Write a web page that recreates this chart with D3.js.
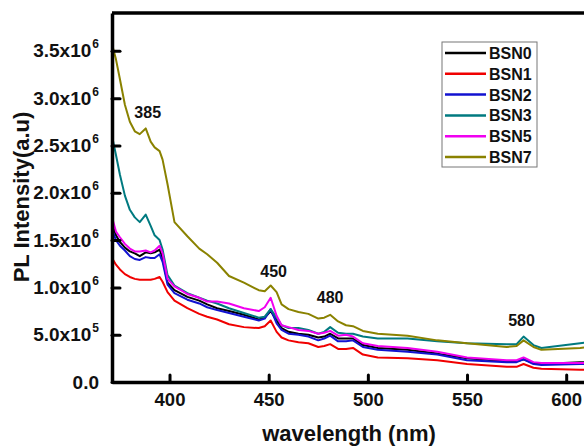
<!DOCTYPE html>
<html>
<head>
<meta charset="utf-8">
<script src="https://cdn.jsdelivr.net/npm/d3@7"></script>
<style>
  body { margin: 0; background: #fff; }
  svg { display: block; font-family: "Liberation Sans", Arial, sans-serif; }
</style>
</head>
<body>
<div id="chart"></div>
<script>
// wavelength (nm) sampled along the spectra
var wavelength = [371, 373, 375, 377.5, 380, 382.5, 385, 388, 390.5, 392.5, 395, 396.5, 399, 402.5, 409, 415, 419, 424, 430, 437.5,
  445, 448, 451, 454, 456.5, 460, 465, 470, 475, 478, 481, 485, 489, 492.5, 497.5, 505, 520, 535, 550, 570,
  575, 578.5, 583.5, 587.5, 607, 612];

// PL intensity in units of 10^6
var bsn0 = [1.67, 1.55, 1.48, 1.42, 1.38, 1.36, 1.33, 1.37, 1.36, 1.37, 1.40, 1.31, 1.05, 0.97, 0.90, 0.86, 0.82, 0.78, 0.75, 0.71,
  0.66, 0.68, 0.75, 0.65, 0.57, 0.53, 0.51, 0.50, 0.47, 0.48, 0.51, 0.46, 0.46, 0.46, 0.39, 0.36, 0.34, 0.30, 0.25, 0.22,
  0.22, 0.24, 0.20, 0.19, 0.21, 0.21];
var bsn1 = [1.31, 1.24, 1.19, 1.14, 1.11, 1.09, 1.08, 1.08, 1.08, 1.09, 1.11, 1.06, 0.95, 0.86, 0.78, 0.72, 0.69, 0.66, 0.61, 0.58,
  0.57, 0.59, 0.65, 0.53, 0.47, 0.44, 0.42, 0.41, 0.37, 0.38, 0.40, 0.35, 0.35, 0.36, 0.29, 0.26, 0.25, 0.23, 0.19, 0.16,
  0.16, 0.19, 0.15, 0.14, 0.13, 0.13];
var bsn2 = [1.61, 1.50, 1.44, 1.39, 1.33, 1.30, 1.29, 1.32, 1.31, 1.31, 1.35, 1.27, 1.03, 0.94, 0.87, 0.83, 0.79, 0.76, 0.73, 0.69,
  0.65, 0.67, 0.77, 0.62, 0.55, 0.51, 0.50, 0.48, 0.44, 0.46, 0.49, 0.43, 0.43, 0.44, 0.37, 0.34, 0.32, 0.29, 0.23, 0.21,
  0.21, 0.24, 0.19, 0.18, 0.19, 0.19];
var bsn3 = [2.60, 2.40, 2.19, 1.97, 1.82, 1.74, 1.69, 1.77, 1.65, 1.55, 1.50, 1.40, 1.13, 1.02, 0.94, 0.89, 0.86, 0.83, 0.78, 0.73,
  0.68, 0.69, 0.77, 0.68, 0.60, 0.57, 0.57, 0.55, 0.51, 0.53, 0.58, 0.52, 0.51, 0.51, 0.48, 0.46, 0.46, 0.43, 0.41, 0.40,
  0.40, 0.48, 0.39, 0.36, 0.41, 0.42];
var bsn5 = [1.74, 1.59, 1.53, 1.46, 1.41, 1.38, 1.38, 1.39, 1.37, 1.39, 1.44, 1.36, 1.09, 1.01, 0.93, 0.89, 0.85, 0.85, 0.83, 0.78,
  0.75, 0.79, 0.89, 0.70, 0.60, 0.58, 0.55, 0.54, 0.51, 0.52, 0.54, 0.49, 0.50, 0.48, 0.41, 0.38, 0.36, 0.32, 0.26, 0.23,
  0.23, 0.26, 0.21, 0.20, 0.20, 0.20];
var bsn7 = [3.57, 3.41, 3.20, 2.93, 2.75, 2.65, 2.62, 2.68, 2.54, 2.48, 2.44, 2.35, 2.09, 1.69, 1.54, 1.41, 1.35, 1.26, 1.12, 1.05,
  0.97, 0.96, 1.02, 0.95, 0.82, 0.77, 0.74, 0.72, 0.67, 0.68, 0.71, 0.64, 0.60, 0.59, 0.54, 0.51, 0.49, 0.44, 0.41, 0.37,
  0.38, 0.44, 0.37, 0.34, 0.36, 0.37];

var seriesNames = ["BSN0", "BSN1", "BSN2", "BSN3", "BSN5", "BSN7"];
var seriesValues = [bsn0, bsn1, bsn2, bsn3, bsn5, bsn7];
var seriesColors = ["#000000", "#f00000", "#1212d0", "#007a80", "#f000f0", "#8a8200"];

var xTicks = [400, 450, 500, 550, 600];
var yTicks = [0, 0.5, 1.0, 1.5, 2.0, 2.5, 3.0, 3.5];
var yTickText = [["0.0", ""], ["5.0x10", "5"], ["1.0x10", "6"], ["1.5x10", "6"], ["2.0x10", "6"], ["2.5x10", "6"], ["3.0x10", "6"], ["3.5x10", "6"]];

var peakLabels = [
  { text: "385", nm: 389, v: 2.79 },
  { text: "450", nm: 452.5, v: 1.11 },
  { text: "480", nm: 481, v: 0.835 },
  { text: "580", nm: 577.5, v: 0.59 }
];

var width = 584, height = 447;
var margin = { top: 13, left: 112, bottom: 65 };
var plotRight = 590; // frame continues past the window edge

var x = d3.scaleLinear().domain([371, 612]).range([margin.left, plotRight]);
var y = d3.scaleLinear().domain([0, 3.9]).range([height - margin.bottom, margin.top]);

var svg = d3.select("#chart").append("svg")
  .attr("width", width)
  .attr("height", height);

svg.append("defs").append("clipPath").attr("id", "plotclip")
  .append("rect")
  .attr("x", margin.left).attr("y", margin.top)
  .attr("width", plotRight - margin.left).attr("height", y(0) - margin.top);

// curves
var line = d3.line()
  .x(function (d, i) { return x(wavelength[i]); })
  .y(function (d) { return y(d); });

svg.append("g").attr("clip-path", "url(#plotclip)")
  .selectAll("path")
  .data(seriesValues)
  .enter().append("path")
  .attr("d", line)
  .attr("fill", "none")
  .attr("stroke", function (d, i) { return seriesColors[i]; })
  .attr("stroke-width", 2)
  .attr("stroke-linejoin", "round");

// frame top
svg.append("line")
  .attr("x1", margin.left).attr("x2", plotRight + 10)
  .attr("y1", margin.top).attr("y2", margin.top)
  .attr("stroke", "#000").attr("stroke-width", 3.5);

// axes
var xAxis = d3.axisBottom(x).tickValues(xTicks).tickSize(-7).tickSizeOuter(0).tickPadding(11);
var yAxis = d3.axisLeft(y).tickValues(yTicks).tickSize(-8).tickSizeOuter(0).tickPadding(13).tickFormat("");

var gx = svg.append("g")
  .attr("transform", "translate(0," + y(0) + ")")
  .call(xAxis);
gx.select(".domain").attr("stroke-width", 3.5);
gx.selectAll(".tick line").attr("stroke-width", 3).attr("stroke-linecap", "round");
gx.selectAll(".tick text")
  .attr("font-size", 18.5).attr("font-weight", "bold")
  .attr("font-family", "Liberation Sans, Arial, sans-serif").attr("fill", "#111");

var gy = svg.append("g")
  .attr("transform", "translate(" + margin.left + ",0)")
  .call(yAxis);
gy.select(".domain").attr("stroke-width", 3.5);
gy.selectAll(".tick line").attr("stroke-width", 3).attr("stroke-linecap", "round");
gy.selectAll(".tick text").each(function (d, i) {
  var t = d3.select(this)
    .attr("font-size", 19).attr("font-weight", "bold")
    .attr("font-family", "Liberation Sans, Arial, sans-serif").attr("fill", "#111");
  t.append("tspan").text(yTickText[i][0]);
  if (yTickText[i][1]) {
    t.append("tspan").attr("font-size", 12).attr("dy", "-0.75em").attr("dx", "1").text(yTickText[i][1]);
  }
});

// axis titles
svg.append("text")
  .attr("x", 349).attr("y", 441)
  .attr("text-anchor", "middle")
  .attr("font-size", 22).attr("font-weight", "bold").attr("fill", "#111")
  .text("wavelength (nm)");

svg.append("text")
  .attr("transform", "translate(29,197) rotate(-90)")
  .attr("text-anchor", "middle")
  .attr("font-size", 22).attr("font-weight", "bold").attr("fill", "#111")
  .text("PL Intensity(a.u)");

// peak annotations
svg.selectAll(".peak")
  .data(peakLabels)
  .enter().append("text")
  .attr("class", "peak")
  .attr("x", function (d) { return x(d.nm); })
  .attr("y", function (d) { return y(d.v); })
  .attr("text-anchor", "middle")
  .attr("font-size", 16).attr("font-weight", "bold").attr("fill", "#111")
  .text(function (d) { return d.text; });

// legend
var legend = svg.append("g").attr("transform", "translate(442,42)");
legend.append("rect")
  .attr("width", 95).attr("height", 125)
  .attr("fill", "#fff").attr("stroke", "#777").attr("stroke-width", 1);
var rows = legend.selectAll(".row")
  .data(seriesNames)
  .enter().append("g")
  .attr("transform", function (d, i) { return "translate(0," + (11 + i * 20.8) + ")"; });
rows.append("line")
  .attr("x1", 3).attr("x2", 44)
  .attr("stroke", function (d, i) { return seriesColors[i]; })
  .attr("stroke-width", 2.5);
rows.append("text")
  .attr("x", 47).attr("y", 6)
  .attr("font-size", 16).attr("font-weight", "bold").attr("fill", "#111")
  .text(function (d) { return d; });
</script>
</body>
</html>
